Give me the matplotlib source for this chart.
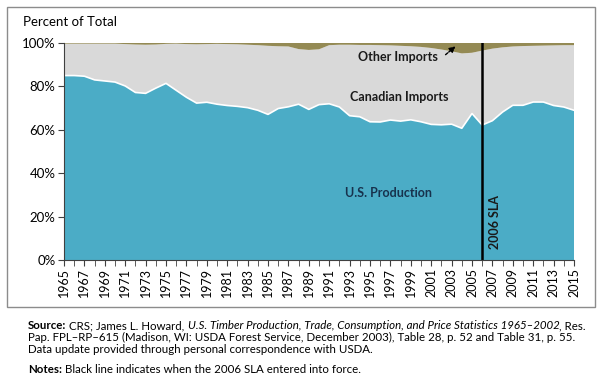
import matplotlib.pyplot as plt
import numpy as np
from matplotlib.patches import Rectangle

# dane, w procentach
years = np.arange(1965, 2016)
us_prod = [85.0, 85.0, 84.7, 83.0, 82.5, 82.0, 80.2, 77.2, 76.8, 79.2,
           81.4, 78.2, 75.0, 72.3, 72.7, 71.8, 71.2, 70.8, 70.2, 69.0,
           67.1, 69.8, 70.6, 71.8, 69.4, 71.6, 72.0, 70.5, 66.5, 66.0,
           63.7, 63.6, 64.5, 64.0, 64.6, 63.7, 62.5, 62.3, 62.6, 60.7,
           67.5, 62.2, 64.2, 68.2, 71.3, 71.3, 72.8, 72.8, 71.2, 70.5,
           69.0]
other_imp = [0.3, 0.3, 0.3, 0.3, 0.3, 0.3, 0.5, 0.7, 0.8, 0.7,
             0.4, 0.3, 0.5, 0.6, 0.5, 0.4, 0.5, 0.6, 0.8, 1.0,
             1.3, 1.5, 1.6, 2.8, 3.2, 2.9, 1.0, 0.8, 0.8, 0.9,
             0.9, 1.0, 1.1, 1.3, 1.5, 1.8, 2.3, 3.0, 3.8, 4.8,
             4.5, 3.5, 2.6, 2.0, 1.6, 1.4, 1.3, 1.2, 1.1, 1.0,
             1.0]
us_prod = np.array(us_prod)
other_imp = np.array(other_imp)
canada_imp = 100 - us_prod - other_imp
sla_year = 2006
y_ticks = [0, 20, 40, 60, 80, 100]

plt.rcParams['font.family'] = ['Lato', 'DejaVu Sans']

fig = plt.figure(figsize=(6.05, 3.87), dpi=100)
ax = fig.add_axes([64/605, 1 - 260/387, 510/605, 217/387])

# ramka dookola wykresu
fig.patches.append(Rectangle((7/605, 1 - 307/387), 588/605, 300/387,
                             transform=fig.transFigure, fill=False,
                             edgecolor='#8c8c8c', linewidth=1.0))

ax.stackplot(years, us_prod, canada_imp, other_imp,
             colors=['#4bacc6', '#d9d9d9', '#948a54'], linewidth=0)
ax.plot(years, us_prod, color='white', linewidth=1.2)
ax.axvline(sla_year, color='black', linewidth=1.8)

ax.set_xlim(1965, 2015)
ax.set_ylim(0, 100)
ax.set_xticks(years[::2])
ax.set_xticks(years, minor=True)
ax.set_xticklabels([str(y) for y in years[::2]], rotation=90, fontsize=9)
ax.set_yticks(y_ticks)
ax.set_yticklabels(['%d%%' % v for v in y_ticks], fontsize=9.5)
ax.tick_params(axis='both', which='both', direction='out', length=4,
               color='#404040', pad=2)
for s in ['top', 'right']:
    ax.spines[s].set_visible(False)
for s in ['left', 'bottom']:
    ax.spines[s].set_color('#404040')

fig.text(23/605, 1 - 22/387, 'Percent of Total', fontsize=9.5, va='center')

# etykiety
ax.text(1997.7, 93.6, 'Other Imports', fontsize=9, fontweight='bold',
        ha='center', va='center', color='#1a1a1a')
ax.annotate('', xy=(2003.6, 99.3), xytext=(2002.2, 93.8),
            arrowprops=dict(arrowstyle='-|>', color='black', lw=1,
                            linestyle=(0, (2, 1)), mutation_scale=9))
ax.text(1997.9, 75, 'Canadian Imports', fontsize=9, fontweight='bold',
        ha='center', va='center', color='#1a1a1a')
ax.text(1996.8, 31, 'U.S. Production', fontsize=9, fontweight='bold',
        ha='center', va='center', color='#17324d')
ax.text(2007.3, 17.5, '2006 SLA', fontsize=9, fontweight='bold',
        rotation=90, ha='center', va='center', color='#1a1a1a')

# zrodlo i uwagi - kawalki tekstu doklejane jeden za drugim
fs_note = 8.3

def note_line(parts, y):
    prev = fig.text(28/605, 1 - y/387, parts[0][0], fontsize=fs_note,
                    va='bottom', fontweight=parts[0][1], style=parts[0][2])
    for txt, w, st in parts[1:]:
        prev = ax.annotate(txt, xy=(1, 0), xycoords=prev,
                           va='bottom', ha='left', fontsize=fs_note,
                           fontweight=w, style=st, annotation_clip=False)

note_line([('Source:', 'bold', 'normal'),
           (' CRS; James L. Howard, ', 'normal', 'normal'),
           ('U.S. Timber Production, Trade, Consumption, and Price Statistics 1965\u20132002', 'normal', 'italic'),
           (', Res.', 'normal', 'normal')], 331)
note_line([('Pap. FPL\u2013RP\u2013615 (Madison, WI: USDA Forest Service, December 2003), Table 28, p. 52 and Table 31, p. 55.', 'normal', 'normal')], 343)
note_line([('Data update provided through personal correspondence with USDA.', 'normal', 'normal')], 355)
note_line([('Notes:', 'bold', 'normal'),
           (' Black line indicates when the 2006 SLA entered into force.', 'normal', 'normal')], 375)

fig.savefig('out.png', dpi=100)
